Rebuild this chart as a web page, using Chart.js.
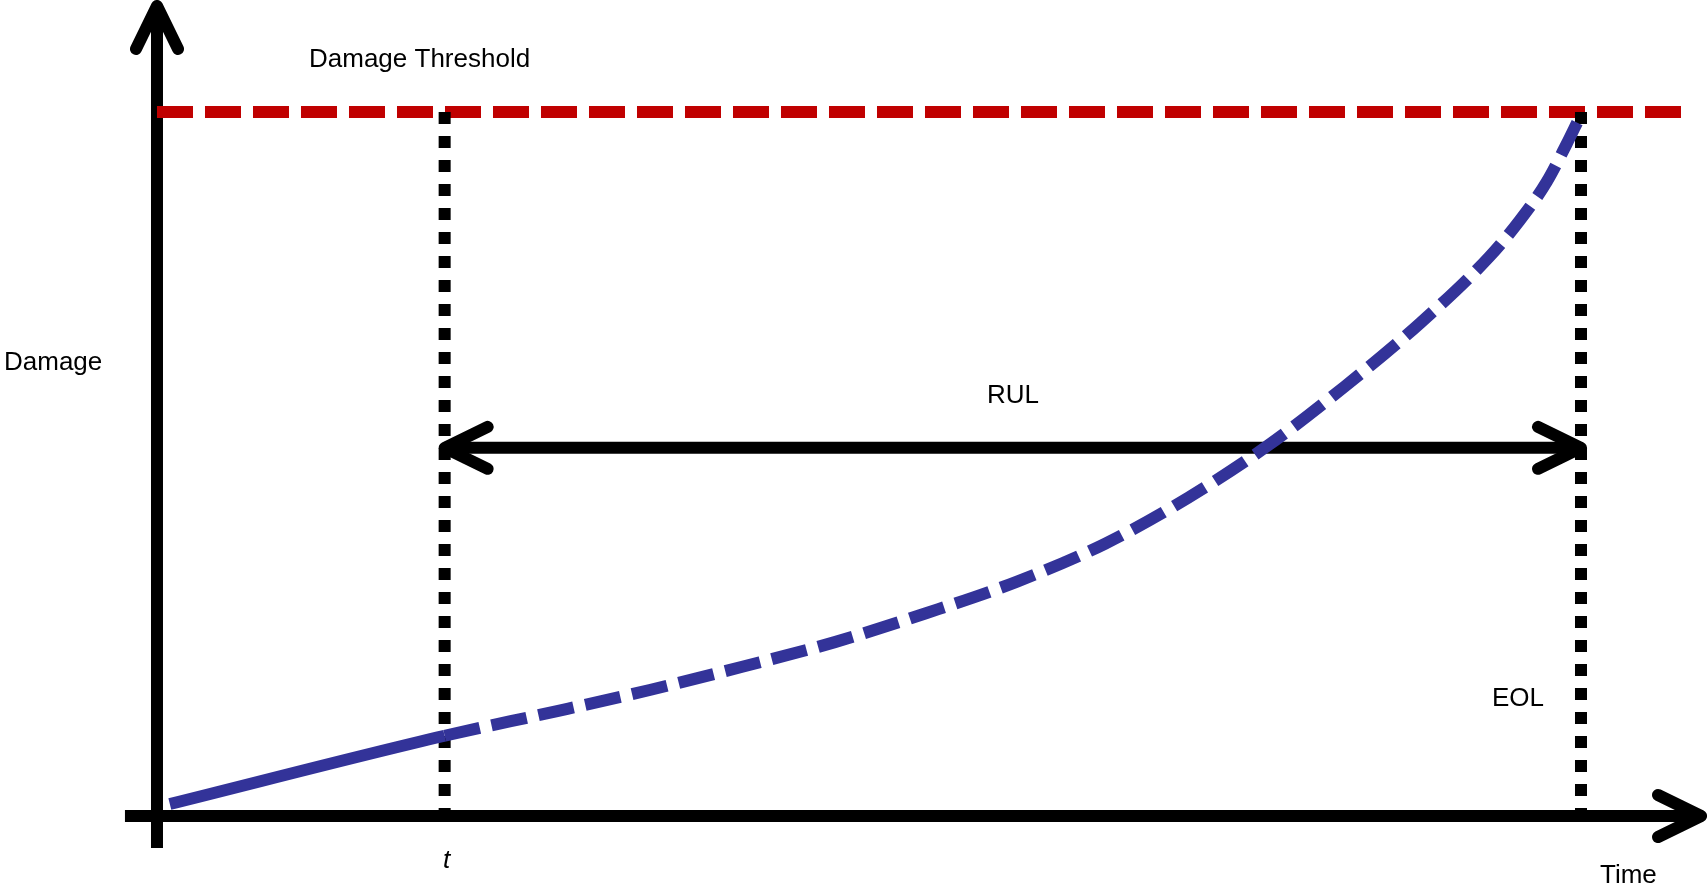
<!DOCTYPE html>
<html>
<head>
<meta charset="utf-8">
<title>Damage / RUL</title>
<script src="https://cdn.jsdelivr.net/npm/chart.js@4"></script>
<style>
    html, body { margin: 0; padding: 0; background: #fff; }
    #wrap { width: 1708px; height: 888px; }
</style>
</head>
<body>
<div id="wrap"><canvas id="damageChart" width="1708" height="888"></canvas></div>
<script>
// prediction time t, end of life and the damage threshold
var currentTime = 2.02;
var eolTime = 10;
var damageThreshold = 10;
var rulLevel = 5.23;

// damage growth
var damageTime = [0.09, 2.02, 2.81, 3.46, 4.11, 4.76, 5.40, 6.04, 6.66, 7.24, 7.80, 8.34, 8.87, 9.35, 9.57, 9.76, 9.90, 9.98];
var damageValues = [0.17, 1.14, 1.49, 1.79, 2.12, 2.47, 2.88, 3.33, 3.87, 4.52, 5.26, 6.10, 7.00, 7.93, 8.46, 9.01, 9.55, 9.88];

// how far the drawn axes and threshold line run
var timeAxisRange = [-0.225, 10.843];
var damageAxisRange = [-0.455, 11.506];
var thresholdEnd = 10.71;

// visible window of the scales
var timeView = [-1.1025, 10.8919];
var damageView = [-1.0227, 11.5909];

var labelFont = '26px "Liberation Sans", Arial, Helvetica, sans-serif';

function pointsOf(xs, ys) {
    var pts = [];
    for (var i = 0; i < xs.length; i++) {
        pts.push({ x: xs[i], y: ys[i] });
    }
    return pts;
}

function drawArrowHead(ctx, from, to) {
    var ang = Math.atan2(to.y - from.y, to.x - from.x);
    var back = 43, side = 21;
    var bx = to.x - Math.cos(ang) * back;
    var by = to.y - Math.sin(ang) * back;
    var nx = -Math.sin(ang) * side;
    var ny = Math.cos(ang) * side;
    ctx.beginPath();
    ctx.moveTo(bx + nx, by + ny);
    ctx.lineTo(to.x, to.y);
    ctx.lineTo(bx - nx, by - ny);
    ctx.stroke();
}

// open arrow heads on the axes and on the RUL span
var arrowPlugin = {
    id: 'arrowHeads',
    afterDatasetsDraw: function(chart) {
        var ctx = chart.ctx;
        ctx.save();
        ctx.strokeStyle = '#000';
        ctx.lineWidth = 12;
        ctx.lineCap = 'round';
        ctx.lineJoin = 'round';
        chart.data.datasets.forEach(function(ds, i) {
            if (!ds.arrows) return;
            var pts = chart.getDatasetMeta(i).data;
            var n = pts.length;
            drawArrowHead(ctx, pts[n - 2], pts[n - 1]);
            if (ds.arrows === 'both') {
                drawArrowHead(ctx, pts[1], pts[0]);
            }
        });
        ctx.restore();
    }
};

var labelPlugin = {
    id: 'diagramLabels',
    afterDraw: function(chart) {
        var labels = [
            ['Damage Threshold', 309, 67, ''],
            ['Damage', 4, 370, ''],
            ['RUL', 987, 403, ''],
            ['t', 443, 868, 'italic '],
            ['EOL', 1492, 706, ''],
            ['Time', 1600, 883, '']
        ];
        var ctx = chart.ctx;
        ctx.save();
        ctx.fillStyle = '#000';
        ctx.textAlign = 'left';
        ctx.textBaseline = 'alphabetic';
        for (var i = 0; i < labels.length; i++) {
            ctx.font = labels[i][3] + labelFont;
            ctx.fillText(labels[i][0], labels[i][1], labels[i][2]);
        }
        ctx.restore();
    }
};

var lineBase = {
    showLine: true,
    pointRadius: 0,
    pointHoverRadius: 0,
    borderCapStyle: 'butt',
    clip: false
};

function lineSet(extra) {
    return Object.assign({}, lineBase, extra);
}

var ctx = document.getElementById('damageChart').getContext('2d');

var damageChart = new Chart(ctx, {
    type: 'scatter',
    data: {
        datasets: [
            lineSet({
                label: 'Damage',
                data: pointsOf(damageTime, damageValues),
                borderColor: '#333399',
                borderWidth: 12,
                cubicInterpolationMode: 'monotone',
                segment: {
                    // solid up to t, dashed prediction after it
                    borderDash: function(c) {
                        return c.p0.parsed.x < currentTime ? undefined : [36, 12];
                    }
                },
                order: 0
            }),
            lineSet({
                label: 'RUL',
                data: pointsOf([currentTime, eolTime], [rulLevel, rulLevel]),
                borderColor: '#000',
                borderWidth: 12,
                arrows: 'both',
                order: 1
            }),
            lineSet({
                label: 't',
                data: pointsOf([currentTime, currentTime], [damageThreshold, 0]),
                borderColor: '#000',
                borderWidth: 12,
                borderDash: [12, 12],
                order: 2
            }),
            lineSet({
                label: 'EOL',
                data: pointsOf([eolTime, eolTime], [damageThreshold, 0]),
                borderColor: '#000',
                borderWidth: 12,
                borderDash: [12, 12],
                order: 2
            }),
            lineSet({
                label: 'Damage Threshold',
                data: pointsOf([0, thresholdEnd], [damageThreshold, damageThreshold]),
                borderColor: '#C00000',
                borderWidth: 12,
                borderDash: [36, 12],
                order: 3
            }),
            lineSet({
                label: 'Time axis',
                data: pointsOf(timeAxisRange, [0, 0]),
                borderColor: '#000',
                borderWidth: 12,
                arrows: 'end',
                order: 4
            }),
            lineSet({
                label: 'Damage axis',
                data: pointsOf([0, 0], damageAxisRange),
                borderColor: '#000',
                borderWidth: 12,
                arrows: 'end',
                order: 4
            })
        ]
    },
    options: {
        responsive: false,
        animation: false,
        events: [],
        layout: { padding: 0 },
        scales: {
            x: { type: 'linear', min: timeView[0], max: timeView[1], display: false },
            y: { type: 'linear', min: damageView[0], max: damageView[1], display: false }
        },
        plugins: {
            legend: { display: false },
            tooltip: { enabled: false }
        }
    },
    plugins: [arrowPlugin, labelPlugin]
});
</script>
</body>
</html>
